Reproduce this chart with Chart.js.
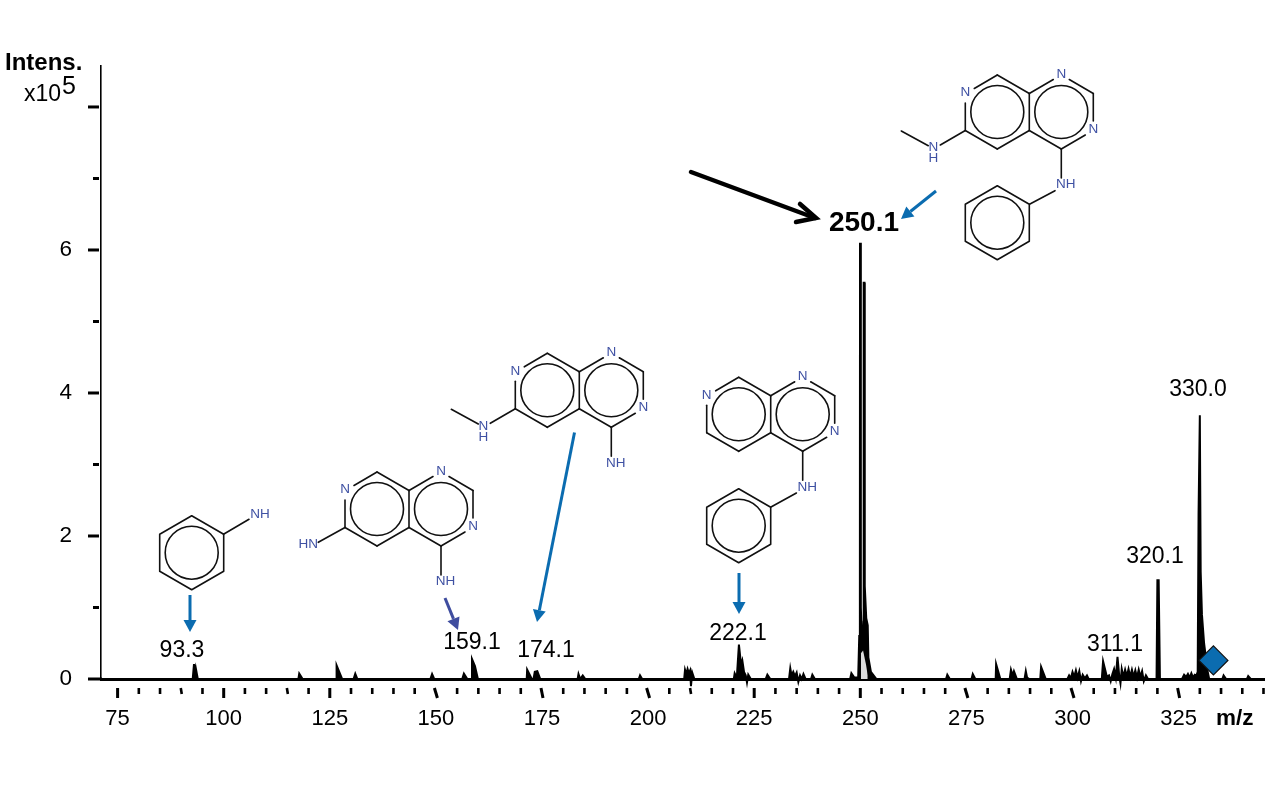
<!DOCTYPE html>
<html><head><meta charset="utf-8">
<style>html,body{margin:0;padding:0;background:#fff}canvas{display:block}</style>
<script src="https://cdn.jsdelivr.net/npm/chart.js@4/dist/chart.umd.js"></script>
</head><body><canvas id="c" width="1280" height="787"></canvas>
<script>
const xTickValues=[75,80,85,90,95,100,105,110,115,120,125,130,135,140,145,150,155,160,165,170,175,180,185,190,195,200,205,210,215,220,225,230,235,240,245,250,255,260,265,270,275,280,285,290,295,300,305,310,315,320,325,330,335,340,345];
const xLabelled=[75,100,125,150,175,200,225,250,275,300,325];
const yTickValues=[0,1,2,3,4,5,6,7,8];
const yLabelled=[0,2,4,6];
const spectrumMz=[71.1,92.7,93.0,93.2,93.4,93.9,117.6,117.8,118.6,126.5,126.6,127.9,130.6,131,131.5,148.7,149.1,149.6,156.2,156.6,157.4,158.3,158.5,159.2,159.9,171.4,171.5,172.6,173,173.3,173.9,174.6,183.4,183.6,184,184.6,185.2,197.8,198.1,198.6,208.5,208.7,209,209.3,209.6,209.9,210.1,210.4,210.9,220.2,220.4,220.9,221.4,221.9,222.2,222.6,223,223.3,223.6,224.2,227.7,228.1,228.8,233.2,233.5,233.8,234.2,234.6,235,235.4,235.8,236.2,236.6,237.1,238.4,238.7,239.3,247.6,247.9,248.6,249.5,249.75,249.9,249.93,250.1,250.15,250.4,250.6,250.75,250.8,250.98,251.05,251.4,251.75,251.9,252.5,253.8,270.2,270.5,271.1,276.2,276.5,277.1,281.9,282,283,285.2,285.5,285.9,286.2,286.9,288.7,289,289.3,289.8,292.4,292.6,293.7,298.8,299.2,299.6,300,300.4,300.8,301.2,301.6,302,302.4,302.9,303.4,303.8,306.9,307.2,308.1,308.6,309,309.4,309.8,310.2,310.6,311,311.3,311.6,312,312.4,312.8,313.2,313.6,314,314.4,314.8,315.2,315.6,316,316.4,316.8,317.3,317.8,319.8,320.0,320.3,320.6,325.8,326.3,326.8,327.2,327.6,328,328.4,328.8,329.2,329.5,329.7,330.0,330.2,330.5,331,331.8,332.2,335.3,335.6,336.2,341.1,341.4,342,345.1];
const spectrumIntensity=[0,0,.21,.1,.16,0,0,.075,0,0,.19,0,0,.075,0,0,.07,0,0,.075,0,0,.28,.18,0,0,.13,0,0,.1,.11,0,0,.07,0,.05,0,0,.05,0,0,.13,.07,.14,.08,.12,-.1,.09,0,0,.08,.02,.48,.2,.26,.1,.05,-.05,.06,0,0,.06,0,0,.15,.05,.1,.04,.09,-.04,.05,0,.07,0,0,.06,0,0,.08,.02,.02,.6,1.1,6.1,6.1,1,.5,.45,.8,5.54,5.54,1.3,.85,.75,.3,.1,0,0,.06,0,0,.07,0,0,.21,0,0,.13,.05,.11,0,0,.11,.02,0,0,.17,0,0,.05,.01,.1,.03,.12,.02,.11,-.03,.06,.01,.05,0,0,.25,.03,.05,-.03,.07,.14,.02,.31,.05,-.06,.14,.03,.13,.04,.14,.03,.13,.03,.12,.02,.13,.03,.11,-.03,.05,0,0,1.38,1.38,0,0,.06,.03,.07,.02,.08,.02,.06,.05,.1,2.3,3.69,1.5,.9,.5,.12,0,0,.05,0,0,.04,0,0];
const residueMz=[250.15,250.15,250.65,251.35,251.75,251.75];
const residueIntensity=[.03,.36,.4,.2,.05,.03];
const precursorMz=[333.2];
const precursorIntensity=[.26];
const peakTexts=['93.3','159.1','174.1','222.1','311.1','320.1','330.0'];
const basePeakText='250.1';

const BLUE='#0b6cb0', NAVY='#3f4d9f', ATOM='#3f51a3';
const FONT='"Liberation Sans", Arial, sans-serif';
const zip=(a,b)=>a.map((v,i)=>({x:v,y:b[i]}));

function mol(ctx,cx,cy,kind){
  const seg=(a,b,c,d)=>{ctx.beginPath();ctx.moveTo(cx+a,cy+b);ctx.lineTo(cx+c,cy+d);ctx.stroke();};
  const circ=(a,b)=>{ctx.beginPath();ctx.arc(cx+a,cy+b,26.5,0,Math.PI*2);ctx.stroke();};
  const atom=(t,a,b)=>ctx.fillText(t,cx+a,cy+b);
  ctx.strokeStyle='#111';ctx.lineWidth=1.6;ctx.lineCap='round';ctx.lineJoin='round';
  const segs=[[0,-37,32,-18.5],[32,-18.5,32,18.5],[32,18.5,0,37],[0,37,-32,18.5],[-32,18.5,-32,-9],[-23,-23.5,0,-37],
    [32,-18.5,56,-32.5],[72,-32.5,96,-18.5],[96,-18.5,96,9],[88,23,64,37],[64,37,32,18.5],[64,37,64,66]];
  segs.forEach(s=>seg(...s));circ(0,0);circ(64,0);
  ctx.fillStyle=ATOM;ctx.font='13.5px '+FONT;ctx.textAlign='center';ctx.textBaseline='middle';
  atom('N',-32,-19.5);atom('N',64,-38.2);atom('N',96,17.2);atom('NH',68.5,72.5);
  if(kind==='methyl'){seg(-32,18.5,-57,33);seg(-96,19,-69,33.7);atom('N',-64,35.5);atom('H',-64,46.5);}
  if(kind==='amine'){seg(-32,18.5,-58.7,33.3);atom('HN',-68.7,35.5);}
}
function phenyl(ctx,cx,cy){
  ctx.strokeStyle='#111';ctx.lineWidth=1.6;ctx.lineJoin='round';
  ctx.beginPath();
  [[0,-37],[32,-18.5],[32,18.5],[0,37],[-32,18.5],[-32,-18.5]].forEach((p,i)=>i?ctx.lineTo(cx+p[0],cy+p[1]):ctx.moveTo(cx+p[0],cy+p[1]));
  ctx.closePath();ctx.stroke();
  ctx.beginPath();ctx.arc(cx,cy,26.5,0,Math.PI*2);ctx.stroke();
}
function link(ctx,a,b,c,d){ctx.strokeStyle='#111';ctx.lineWidth=1.6;ctx.beginPath();ctx.moveTo(a,b);ctx.lineTo(c,d);ctx.stroke();}
function arrow(ctx,x0,y0,x1,y1,col){
  const ang=Math.atan2(y1-y0,x1-x0),L=12,W=6.5;
  const bx=x1-L*Math.cos(ang),by=y1-L*Math.sin(ang);
  ctx.strokeStyle=col;ctx.fillStyle=col;ctx.lineWidth=3;ctx.lineCap='butt';
  ctx.beginPath();ctx.moveTo(x0,y0);ctx.lineTo(bx,by);ctx.stroke();
  ctx.beginPath();ctx.moveTo(x1,y1);ctx.lineTo(bx-W*Math.sin(ang),by+W*Math.cos(ang));ctx.lineTo(bx+W*Math.sin(ang),by-W*Math.cos(ang));ctx.closePath();ctx.fill();
}
const slant={90:1,115:1,150:3,175:2,200:3,210:1,275:3,300:3,325:2};
const overlay={id:'overlay',afterDraw(chart){
  const ctx=chart.ctx,xs=chart.scales.x,ys=chart.scales.y;
  ctx.save();
  ctx.strokeStyle='#000';ctx.lineCap='butt';
  xs.ticks.forEach(t=>{const px=xs.getPixelForValue(t.value),maj=xLabelled.includes(t.value),s=slant[t.value]||0;
    ctx.lineWidth=maj?3:2.6;ctx.beginPath();ctx.moveTo(px-s/2,688);ctx.lineTo(px+s/2,maj?698:694);ctx.stroke();});
  ys.ticks.forEach(t=>{const py=ys.getPixelForValue(t.value),maj=t.value%2===0;
    ctx.lineWidth=3;ctx.beginPath();ctx.moveTo(maj?88:93,py);ctx.lineTo(t.value===0?102:99,py);ctx.stroke();});
  ctx.fillStyle='#000';ctx.textBaseline='alphabetic';
  ctx.textAlign='left';ctx.font='bold 24px '+FONT;ctx.fillText('Intens.',5,70);
  ctx.font='23px '+FONT;ctx.fillText('x10',24,101);
  ctx.font='25px '+FONT;ctx.fillText('5',62,94);
  ctx.font='bold 22.5px '+FONT;ctx.fillText('m/z',1216,725);
  ctx.textAlign='center';ctx.textBaseline='middle';ctx.font='23px '+FONT;
  const pos=[[182,651],[472,643],[546,651],[738,634],[1115,645],[1155,557],[1198,390]];
  peakTexts.forEach((t,i)=>ctx.fillText(t,pos[i][0],pos[i][1]));
  ctx.font='bold 28px '+FONT;ctx.fillText(basePeakText,864,223);
  mol(ctx,997.3,112,'methyl');link(ctx,1055,190.7,1029.5,204.2);phenyl(ctx,997.3,222.7);
  mol(ctx,547.3,390.3,'methyl');
  mol(ctx,377,509,'amine');
  mol(ctx,738.7,414.3,'none');link(ctx,796.4,493,771,507);phenyl(ctx,738.7,525.7);
  phenyl(ctx,191.7,552.7);link(ctx,223.5,534.3,249,519.3);
  ctx.fillStyle=ATOM;ctx.font='13.5px '+FONT;ctx.textAlign='center';ctx.textBaseline='middle';ctx.fillText('NH',260,514);
  arrow(ctx,936,191,901,219,BLUE);arrow(ctx,574.5,432.5,537,622,BLUE);arrow(ctx,739,573,739,614,BLUE);
  arrow(ctx,190,595,190,632,BLUE);arrow(ctx,445,598,458,630,NAVY);
  ctx.strokeStyle='#000';ctx.lineWidth=4.5;ctx.lineCap='round';ctx.lineJoin='miter';
  ctx.beginPath();ctx.moveTo(691,172);ctx.lineTo(815,218);ctx.stroke();
  ctx.beginPath();ctx.moveTo(800,204);ctx.lineTo(816,218);ctx.lineTo(796,222);ctx.stroke();
  ctx.restore();
}};
new Chart(document.getElementById('c'),{
  type:'line',
  data:{datasets:[
    {label:'Precursor',data:zip(precursorMz,precursorIntensity),showLine:false,pointStyle:'rectRot',pointRadius:14.5,pointBackgroundColor:BLUE,pointBorderColor:'#111',pointBorderWidth:1.2,order:0,clip:false},
    {label:'Residue',data:zip(residueMz,residueIntensity),borderWidth:0,pointRadius:0,fill:'origin',backgroundColor:'#dcdcdc',borderColor:'#dcdcdc',order:1,clip:false},
    {label:'Spectrum',data:zip(spectrumMz,spectrumIntensity),borderWidth:2,borderColor:'#000',backgroundColor:'#000',pointRadius:0,fill:'origin',tension:0,order:2,clip:false}
  ]},
  options:{responsive:false,animation:false,events:[],
    layout:{padding:{left:0,top:66,right:16,bottom:0}},
    plugins:{legend:{display:false},tooltip:{enabled:false},title:{display:false}},
    scales:{
      x:{type:'linear',min:71.09,max:345.12,bounds:'data',z:1,
        afterBuildTicks(s){s.ticks=xTickValues.map(v=>({value:v}));},
        afterFit(s){s.height=108;s.paddingLeft=0;s.paddingRight=0;},
        grid:{display:false,drawTicks:false},border:{display:true,color:'#000',width:3},
        ticks:{autoSkip:false,maxRotation:0,minRotation:0,padding:27,color:'#000',font:{family:FONT,size:22},
          callback:v=>xLabelled.includes(v)?String(v):''}},
      y:{type:'linear',min:0,max:8.573,bounds:'data',
        afterBuildTicks(s){s.ticks=yTickValues.map(v=>({value:v}));},
        afterFit(s){s.width=101;s.paddingTop=0;s.paddingBottom=0;},
        grid:{display:false,drawTicks:false},border:{display:true,color:'#000',width:1.6},
        ticks:{autoSkip:false,padding:29,color:'#000',font:{family:FONT,size:22.5},
          callback:v=>yLabelled.includes(v)?String(v):''}}
    }
  },
  plugins:[overlay]
});
</script></body></html>
